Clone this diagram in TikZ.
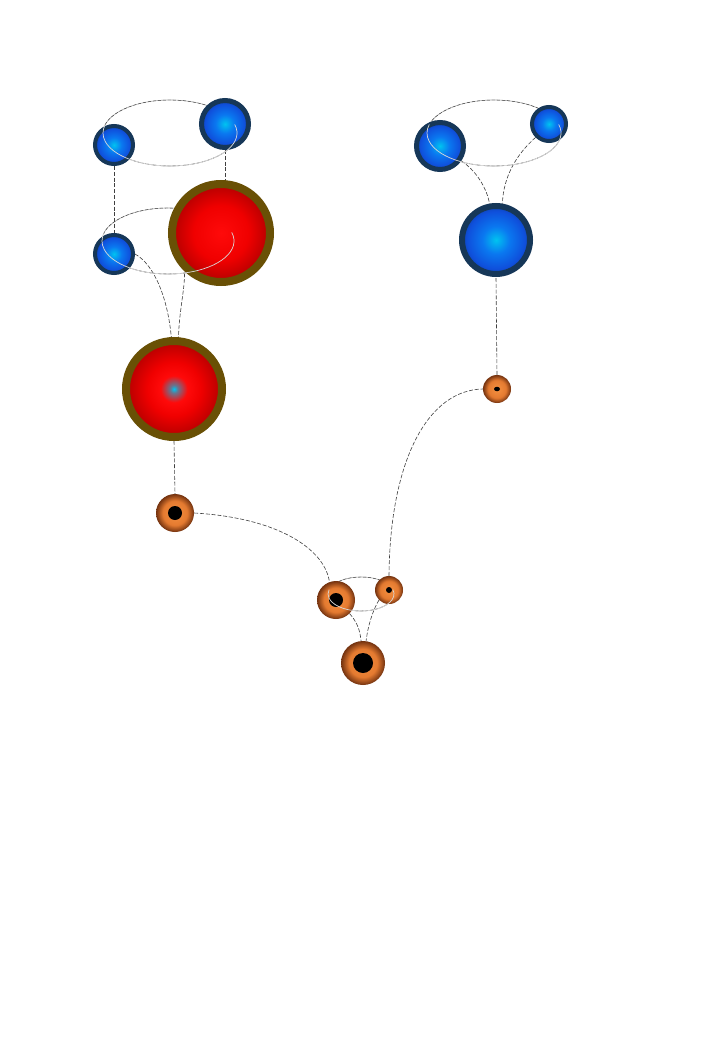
\documentclass[tikz,border=0pt]{standalone}
\usetikzlibrary{shapes.geometric,calc}
\definecolor{blueC}{RGB}{0,195,240}
\definecolor{blueM}{RGB}{10,120,240}
\definecolor{blueE}{RGB}{15,80,220}
\definecolor{navy}{RGB}{22,55,88}
\definecolor{redC}{RGB}{255,10,10}
\definecolor{redM}{RGB}{240,0,0}
\definecolor{redE}{RGB}{180,0,0}
\definecolor{olive}{RGB}{105,80,5}
\definecolor{orC}{RGB}{245,145,65}
\definecolor{orM}{RGB}{228,122,48}
\definecolor{orE}{RGB}{115,50,15}
\pgfdeclareradialshading{blueball}{\pgfpointorigin}{color(0bp)=(blueC); color(10bp)=(blueM); color(21bp)=(blueE); color(25bp)=(blueE!85!black); color(50bp)=(blueE!85!black)}
\pgfdeclareradialshading{redball}{\pgfpointorigin}{color(0bp)=(redC); color(14bp)=(redM); color(25bp)=(redE); color(50bp)=(redE)}
\pgfdeclareradialshading{redcore}{\pgfpointorigin}{color(0bp)=(blueC); color(2bp)=(blueC!60!red); color(7bp)=(redC); color(14bp)=(redM); color(25bp)=(redE); color(50bp)=(redE)}
\pgfdeclareradialshading{orangeball}{\pgfpointorigin}{color(0bp)=(orC); color(16bp)=(orM); color(25bp)=(orE); color(50bp)=(orE)}
\pgfdeclarelayer{back}
\pgfdeclarelayer{fore}
\pgfsetlayers{back,main,fore}
\tikzset{
  ball/.style={circle, inner sep=0pt, minimum size=#1},
  blueball/.style={ball=#1, shading=blueball, draw=navy},
  redball/.style={ball=#1, shading=redball, draw=olive},
  orball/.style={ball=#1, shading=orangeball},
  core/.style={circle, inner sep=0pt, minimum size=#1, fill=black},
  loopring/.style={ellipse, inner sep=0pt, draw=gray!70, line width=0.6pt,
     postaction={draw=black!75, line width=0.45pt, dash pattern=on 3pt off 2pt}},
  prop/.style={draw=black!75, line width=0.6pt, dash pattern=on 4pt off 1.8pt},
  front/.style={draw=white!70!gray, line width=0.7pt}
}
\begin{document}
\begin{tikzpicture}[x=1pt,y=-1pt]
\useasboundingbox (0,0) rectangle (720,1040);
\begin{pgfonlayer}{back}
\fill[white] (0,0) rectangle (720,1040);
\end{pgfonlayer}
% particles
\node[blueball=38pt, line width=4pt] (A1) at (114,145) {};
\node[blueball=47pt, line width=5pt] (A2) at (225,124) {};
\node[blueball=38pt, line width=4pt] (B1) at (114,254) {};
\node[redball=98pt, line width=8pt] (R1) at (221,233) {};
\node[ball=96pt, shading=redcore, draw=olive, line width=8pt] (R2) at (174,389) {};
\node[blueball=47pt, line width=5pt] (C1) at (440,146) {};
\node[blueball=34pt, line width=4pt] (C2) at (549,124) {};
\node[blueball=68pt, line width=6pt] (C3) at (496,240) {};
\node[orball=38pt] (O1) at (175,513) {};
\node[orball=38pt] (O2) at (336,600) {};
\node[orball=28pt] (O3) at (389,590) {};
\node[orball=44pt] (O4) at (363,663) {};
\node[orball=28pt] (O5) at (497,389) {};
\node[core=14pt] (O1c) at (O1) {};
\node[core=14pt] (O2c) at (O2) {};
\node[core=6pt] (O3c) at (O3) {};
\node[core=20pt] (O4c) at (O4) {};
\node[ellipse, inner sep=0pt, minimum width=6pt, minimum height=4.5pt, fill=black] (O5c) at (O5) {};
% rings and connectors behind the particles
\begin{pgfonlayer}{back}
\node[loopring, minimum width=134pt, minimum height=66pt] (E1) at (170,133) {};
\node[loopring, minimum width=132pt, minimum height=66pt] (E2) at (168,241) {};
\node[loopring, minimum width=66pt, minimum height=34pt] (E3) at (361,594) {};
\node[loopring, minimum width=134pt, minimum height=66pt] (E4) at (494,133) {};
\coordinate (R1top) at (A2.south |- R1.north);
\draw[prop] (A1) -- (B1);
\draw[prop] (A2.south) -- (R1top);
\draw[prop] (B1.east) .. controls (155,265) and (168,300) .. (R2.93);
\draw[prop] (E2.-63) .. controls (185,288) and (179,312) .. (R2.85);
\draw[prop] (R2.south) -- (O1.north);
\draw[prop] (O1.east) .. controls (280,518) and (325,550) .. (O2.110);
\draw[prop] (O2.-45) .. controls (357,622) and (360,630) .. (O4.95);
\draw[prop] (O3.225) .. controls (373,610) and (368,625) .. (O4.82);
\draw[prop] (O3.north) .. controls (390,460) and (428,390) .. (O5.west);
\draw[prop] (O5.north) -- (C3.south);
\draw[prop] (C1.-35) .. controls (478,172) and (487,190) .. (C3.100);
\draw[prop] (C2.225) .. controls (510,160) and (503,185) .. (C3.80);
\end{pgfonlayer}
% front halves of rings
\begin{pgfonlayer}{fore}
\draw[front] (E1.center) ++(15:67pt and 33pt) arc[start angle=15, end angle=-195, x radius=67pt, y radius=33pt];
\draw[front] (E2.center) ++(15:66pt and 33pt) arc[start angle=15, end angle=-195, x radius=66pt, y radius=33pt];
\draw[front] (E3.center) ++(15:33pt and 17pt) arc[start angle=15, end angle=-195, x radius=33pt, y radius=17pt];
\draw[front] (E4.center) ++(15:67pt and 33pt) arc[start angle=15, end angle=-195, x radius=67pt, y radius=33pt];
\end{pgfonlayer}
\end{tikzpicture}
\end{document}
